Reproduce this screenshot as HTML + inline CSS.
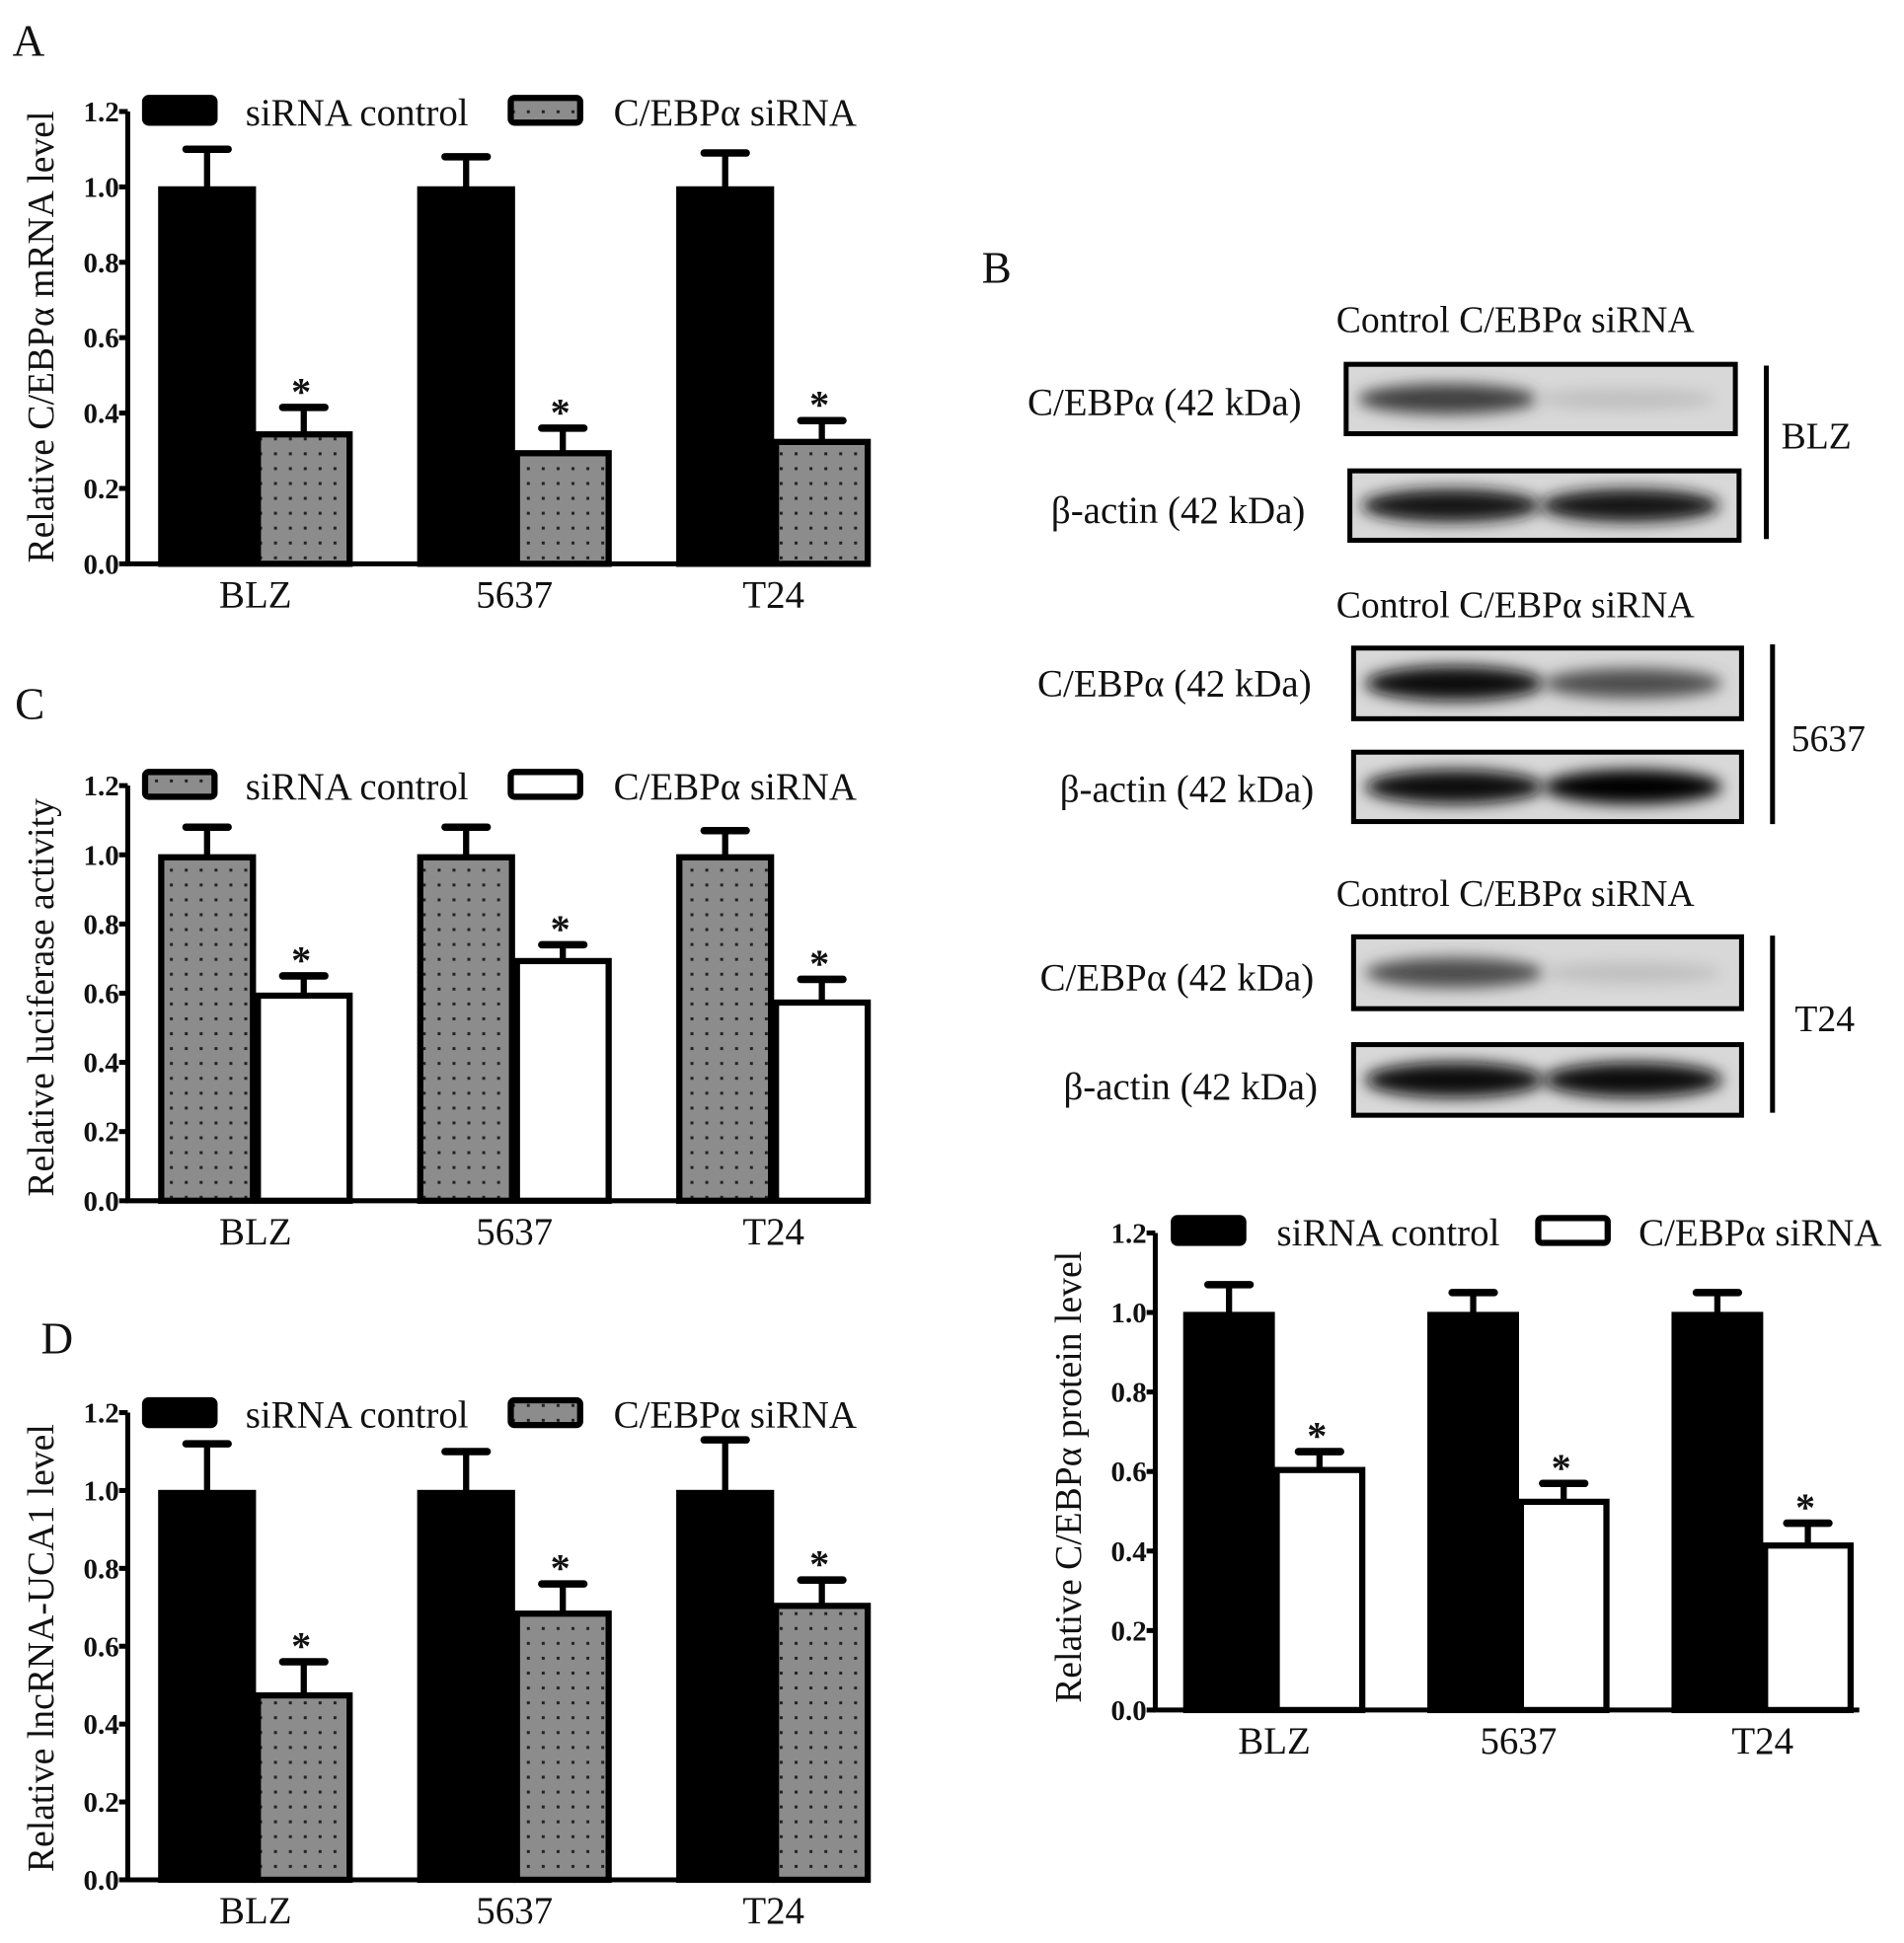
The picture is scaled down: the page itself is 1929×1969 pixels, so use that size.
<!DOCTYPE html>
<html><head><meta charset="utf-8"><style>
html,body{margin:0;padding:0;background:#fff}
svg{display:block}
text{font-family:"Liberation Serif",serif;fill:#111}
</style></head><body>
<svg id="fig" width="1929" height="1969" viewBox="0 0 1536 1568" xmlns="http://www.w3.org/2000/svg">
<defs>
<pattern id="dots" width="12" height="12" patternUnits="userSpaceOnUse">
<rect width="12" height="12" fill="#8c8c8c"/><rect x="5" y="5" width="2.4" height="2.4" fill="#222"/>
</pattern>
<filter id="blur" x="-20%" y="-50%" width="140%" height="200%"><feGaussianBlur stdDeviation="6"/></filter>
</defs>
<g id="panels"></g>
<g id="blots"></g>
</svg>
<script>
const categories = ["BLZ","5637","T24"];
const yTicks = ["0.0","0.2","0.4","0.6","0.8","1.0","1.2"];
const tickValues = [0,0.2,0.4,0.6,0.8,1.0,1.2];
const aControl = [1.0,1.0,1.0];
const aControlErr = [0.10,0.08,0.09];
const aSirna = [0.35,0.30,0.33];
const aSirnaErr = [0.065,0.06,0.05];
const cControl = [1.0,1.0,1.0];
const cControlErr = [0.08,0.08,0.07];
const cSirna = [0.60,0.70,0.58];
const cSirnaErr = [0.05,0.04,0.06];
const dControl = [1.0,1.0,1.0];
const dControlErr = [0.12,0.10,0.13];
const dSirna = [0.48,0.69,0.71];
const dSirnaErr = [0.08,0.07,0.06];
const bControl = [1.0,1.0,1.0];
const bControlErr = [0.07,0.05,0.05];
const bSirna = [0.61,0.53,0.42];
const bSirnaErr = [0.04,0.04,0.05];

const NS="http://www.w3.org/2000/svg";
function el(tag,attrs,parent,txt){const e=document.createElementNS(NS,tag);for(const k in attrs)e.setAttribute(k,attrs[k]);if(txt!==undefined)e.textContent=txt;parent.appendChild(e);return e;}
const root=document.getElementById('panels');
const fills={black:"#000",gray:"url(#dots)",white:"#fff"};

function chart(cfg){
  const g=el('g',{},root);
  
  
  const y=v=>cfg.y0-(v/1.2)*(cfg.y0-cfg.y12);
  const ax=el('path',{d:`M${cfg.ax} ${cfg.y12} V${cfg.y0} H${cfg.axEnd}`,stroke:"#000","stroke-width":4,fill:"none"},g);
  
  
  tickValues.forEach((tv,i)=>{
    el('line',{x1:cfg.ax-7,x2:cfg.ax,y1:y(tv),y2:y(tv),stroke:"#000","stroke-width":4},g);
    const t=el('text',{x:cfg.ax-7,y:y(tv)+8,"text-anchor":"end","font-size":23,"font-weight":"bold"},g,yTicks[i]);
    
    
  });
  const tt=el('text',{transform:`translate(${cfg.titleX},${cfg.titleY}) rotate(-90)`,"text-anchor":"middle","font-size":30},g,cfg.title);
  
  
  categories.forEach((c,i)=>{
    const x0=cfg.start+i*cfg.step;
    [[cfg.ctrl,cfg.ctrlErr,cfg.ctrlFill,0],[cfg.si,cfg.siErr,cfg.siFill,1]].forEach(([vals,errs,f,k])=>{
      const bx=x0+k*cfg.bw, v=vals[i], top=y(v), et=y(v+errs[i]);
      const cx=bx+cfg.bw/2;
      el('line',{x1:cx,x2:cx,y1:top,y2:et,stroke:"#000","stroke-width":5},g);
      el('line',{x1:cx-17,x2:cx+17,y1:et,y2:et,stroke:"#000","stroke-width":6,"stroke-linecap":"round"},g);
      const r=el('rect',{x:bx+2,y:top+2,width:cfg.bw-4,height:cfg.y0-top-2,fill:fills[f],stroke:"#000","stroke-width":5},g);
      
      
      if(k){const s=el('text',{x:cx-2,y:et-2,"text-anchor":"middle","font-size":32,"font-weight":"bold"},g,"*");
        
        }
    });
    const xl=el('text',{x:x0+cfg.bw,y:cfg.y0+35,"text-anchor":"middle","font-size":31},g,c);
    
    
  });
  const L=cfg.leg;
  [[L.x1,cfg.ctrlFill,"siRNA control",L.t1],[L.x2,cfg.siFill,"C/EBPα siRNA",L.t2]].forEach(([lx,f,lab,tx])=>{
    const r=el('rect',{x:lx,y:L.y,width:56,height:20,rx:3,fill:fills[f],stroke:"#000","stroke-width":5},g);
    
    
    const t=el('text',{x:tx,y:L.y+22,"font-size":31},g,lab);
    
    
  });
}
chart({name:"chart-a",ax:103,axEnd:700,y0:455,y12:90,start:128,step:209,bw:78,ctrl:aControl,ctrlErr:aControlErr,si:aSirna,siErr:aSirnaErr,ctrlFill:"black",siFill:"gray",title:"Relative C/EBPα mRNA level",titleX:43,titleY:272,leg:{y:79,x1:117,t1:198,x2:412,t2:495}});
chart({name:"chart-c",ax:103,axEnd:700,y0:969,y12:634,start:128,step:209,bw:78,ctrl:cControl,ctrlErr:cControlErr,si:cSirna,siErr:cSirnaErr,ctrlFill:"gray",siFill:"white",title:"Relative luciferase activity",titleX:43,titleY:805,leg:{y:623,x1:117,t1:198,x2:412,t2:495}});
chart({name:"chart-d",ax:103,axEnd:700,y0:1517,y12:1140,start:128,step:209,bw:78,ctrl:dControl,ctrlErr:dControlErr,si:dSirna,siErr:dSirnaErr,ctrlFill:"black",siFill:"gray",title:"Relative lncRNA-UCA1 level",titleX:43,titleY:1330,leg:{y:1130,x1:117,t1:198,x2:412,t2:495}});
chart({name:"chart-b-protein",ax:932,axEnd:1500,y0:1380,y12:995,start:955,step:197,bw:73,ctrl:bControl,ctrlErr:bControlErr,si:bSirna,siErr:bSirnaErr,ctrlFill:"black",siFill:"white",title:"Relative C/EBPα  protein level",titleX:872,titleY:1192,leg:{y:983,x1:947,t1:1030,x2:1241,t2:1322}});

[["A",10,45],["B",792,228],["C",12,580],["D",33,1092]].forEach(([l,x,yy])=>{
  const t=el('text',{x:x,y:yy,"font-size":36},root,l);
  
  
});

const blots=document.getElementById('blots');
const blocks=[
 {hdr:268,b1:[1086,294,314,56],b2:[1089,380,314,56],line:[1425,295,435],cell:"BLZ",cx:1437,cy:362,l1:[1050,335],l2:[1053,422],c1:[0.75,0.25],a1:[0.9,0.9]},
 {hdr:498,b1:[1092,523,313,57],b2:[1092,607,313,56],line:[1430,520,665],cell:"5637",cx:1445,cy:606,l1:[1058,562],l2:[1060,647],c1:[0.95,0.7],a1:[0.95,0.98]},
 {hdr:731,b1:[1092,756,313,58],b2:[1092,843,313,57],line:[1430,755,898],cell:"T24",cx:1448,cy:832,l1:[1060,799],l2:[1063,887],c1:[0.7,0.25],a1:[0.97,0.97]}
];
blocks.forEach((b,i)=>{
  const g=el('g',{},blots);
  
  
  el('text',{x:1078,y:b.hdr,"font-size":30},g,"Control C/EBPα siRNA");
  [[b.b1,b.c1],[b.b2,b.a1]].forEach(([r,ints])=>{
    el('rect',{x:r[0],y:r[1],width:r[2],height:r[3],fill:"#d8d8d8",stroke:"#000","stroke-width":4},g);
    const cy=r[1]+r[3]/2;
    ints.forEach((v,k)=>{
      const cx=r[0]+r[2]*(k?0.72:0.26);
      const s=Math.round(255*(1-v));
      el('ellipse',{cx:cx,cy:cy,rx:r[2]*0.23,ry:r[3]*0.23*(0.5+v*0.6),fill:`rgb(${s},${s},${s})`,filter:"url(#blur)"},g);
    });
  });
  el('line',{x1:b.line[0],x2:b.line[0],y1:b.line[1],y2:b.line[2],stroke:"#000","stroke-width":4},g);
  el('text',{x:b.cx,y:b.cy,"font-size":30},g,b.cell);
  el('text',{x:b.l1[0],y:b.l1[1],"text-anchor":"end","font-size":31},g,"C/EBPα (42 kDa)");
  el('text',{x:b.l2[0],y:b.l2[1],"text-anchor":"end","font-size":31},g,"β-actin (42 kDa)");
});
</script>
</body></html>
